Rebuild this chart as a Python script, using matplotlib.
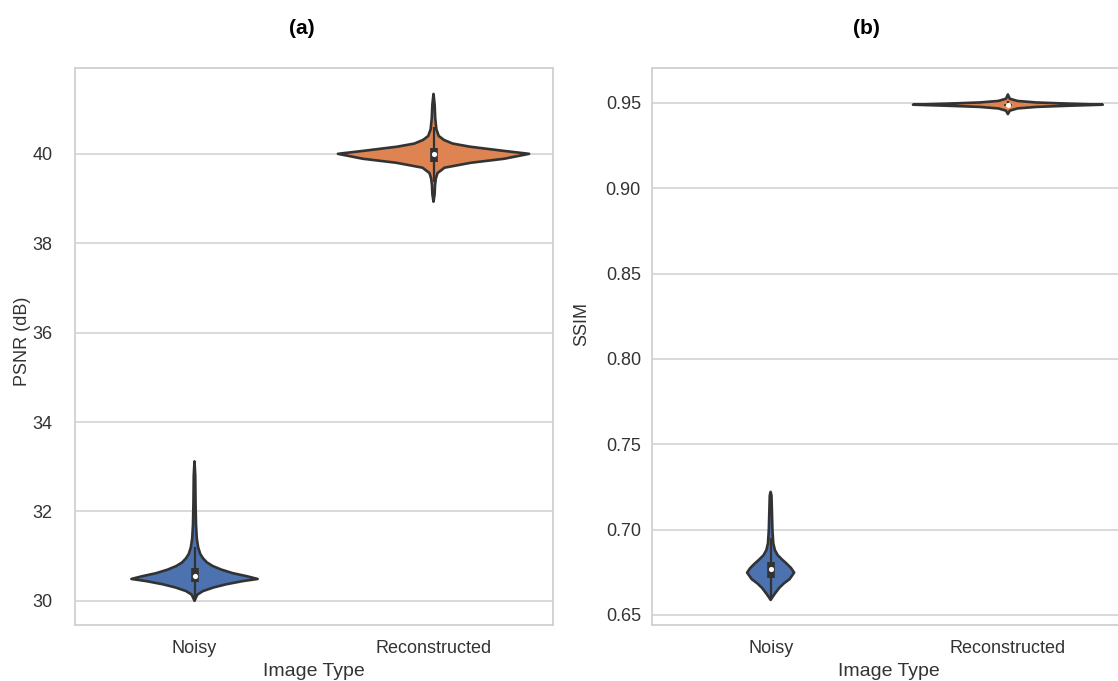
import numpy as np
import matplotlib
matplotlib.use("Agg")
import matplotlib.pyplot as plt

plt.rcParams['font.family'] = ['Liberation Sans', 'DejaVu Sans']

categories = ["Noisy", "Reconstructed"]

# ---- PSNR violins: value grid and relative density ----
psnr_noisy_vals = [30.00, 30.06, 30.14, 30.22, 30.30, 30.37, 30.44, 30.49, 30.55,
                   30.62, 30.70, 30.78, 30.86, 30.95, 31.05, 31.20, 31.40, 31.70,
                   32.20, 32.80, 33.12]
psnr_noisy_dens = [0.0, 0.012, 0.03, 0.09, 0.2, 0.33, 0.5, 0.66, 0.55,
                   0.4, 0.28, 0.19, 0.13, 0.09, 0.06, 0.038, 0.024, 0.016,
                   0.011, 0.008, 0.0]
psnr_recon_vals = [38.93, 39.10, 39.30, 39.45, 39.57, 39.69, 39.80, 39.89, 40.00,
                   40.07, 40.16, 40.23, 40.31, 40.40, 40.55, 40.80, 41.10, 41.34]
psnr_recon_dens = [0.0, 0.012, 0.016, 0.025, 0.042, 0.115, 0.39, 0.74, 1.0,
                   0.72, 0.38, 0.2, 0.11, 0.055, 0.03, 0.018, 0.012, 0.0]
# box stats: whisker low, q1, median, q3, whisker high
psnr_noisy_box = [30.02, 30.43, 30.56, 30.74, 31.20]
psnr_recon_box = [39.36, 39.82, 40.00, 40.13, 40.60]

# ---- SSIM violins ----
ssim_noisy_vals = [0.6588, 0.6605, 0.6625, 0.6658, 0.6685, 0.6710, 0.6748, 0.6775,
                   0.6800, 0.6825, 0.6850, 0.6880, 0.6920, 0.7000, 0.7100, 0.7200, 0.7221]
ssim_noisy_dens = [0.0, 0.02, 0.045, 0.09, 0.14, 0.2, 0.248, 0.215,
                   0.17, 0.12, 0.075, 0.045, 0.028, 0.019, 0.014, 0.009, 0.0]
ssim_recon_vals = [0.9435, 0.9455, 0.9468, 0.9477, 0.9484, 0.9490, 0.9496,
                   0.9503, 0.9512, 0.9525, 0.9550]
ssim_recon_dens = [0.0, 0.02, 0.1, 0.3, 0.65, 1.0, 0.65,
                   0.3, 0.1, 0.02, 0.0]
ssim_noisy_box = [0.6600, 0.6717, 0.6770, 0.6810, 0.6950]
ssim_recon_box = [0.9470, 0.9485, 0.9490, 0.9495, 0.9510]

psnr_ticks = [30, 32, 34, 36, 38, 40]
ssim_ticks = [0.65, 0.70, 0.75, 0.80, 0.85, 0.90, 0.95]

colors = ["#4C72B0", "#DD8452"]
edge = "#333333"
gridc = "#d0d0d0"

fig = plt.figure(figsize=(11.18, 6.81), dpi=100)
axL = fig.add_axes([75/1118, 1-625/681, 478/1118, 557/681])
axR = fig.add_axes([652/1118, 1-625/681, 474.5/1118, 557/681])


def draw_violin(ax, pos, vals, dens, box, color):
    vals = np.asarray(vals)
    w = 0.4 * np.asarray(dens)
    xs = np.concatenate([pos + w, (pos - w)[::-1]])
    ys = np.concatenate([vals, vals[::-1]])
    ax.fill(xs, ys, facecolor=color, edgecolor=edge, linewidth=1.9, zorder=2,
            joinstyle='round')
    ax.plot([pos, pos], [box[0], box[4]], color=edge, lw=1.6, zorder=3,
            solid_capstyle='butt')
    ax.plot([pos, pos], [box[1], box[3]], color=edge, lw=5.5, zorder=3,
            solid_capstyle='butt')
    ax.scatter([pos], [box[2]], s=14, color='white', zorder=4, linewidths=0)


draw_violin(axL, 0, psnr_noisy_vals, psnr_noisy_dens, psnr_noisy_box, colors[0])
draw_violin(axL, 1, psnr_recon_vals, psnr_recon_dens, psnr_recon_box, colors[1])
draw_violin(axR, 0, ssim_noisy_vals, ssim_noisy_dens, ssim_noisy_box, colors[0])
draw_violin(axR, 1, ssim_recon_vals, ssim_recon_dens, ssim_recon_box, colors[1])

for ax, ticks, ylab, fmt in [(axL, psnr_ticks, "PSNR (dB)", "{:.0f}"),
                              (axR, ssim_ticks, "SSIM", "{:.2f}")]:
    ax.set_xlim(-0.5, 1.5)
    ax.set_xticks([0, 1])
    ax.set_xticklabels(categories)
    ax.set_yticks(ticks)
    ax.set_yticklabels([fmt.format(t) for t in ticks])
    ax.grid(axis='y', color=gridc, lw=1.1, zorder=0)
    ax.set_axisbelow(True)
    for s in ax.spines.values():
        s.set_color(gridc)
        s.set_linewidth(1.3)
    ax.tick_params(axis='both', length=0, labelsize=13, colors='#333333')
    ax.tick_params(axis='x', pad=11)
    ax.set_xlabel("Image Type", fontsize=14, color='#333333', labelpad=4)
    ax.set_ylabel(ylab, fontsize=13, color='#333333')

axL.set_ylim(29.46, 41.92)
axR.set_ylim(0.6441, 0.9705)
axL.tick_params(axis='y', pad=16)
axR.tick_params(axis='y', pad=8)
axL.yaxis.set_label_coords(-0.092, 0.51)
axR.yaxis.set_label_coords(-0.13, 0.54)

fig.text(302/1118, 1-28/681, "(a)", fontsize=15, fontweight='bold',
         ha='center', va='center')
fig.text(866/1118, 1-28/681, "(b)", fontsize=15, fontweight='bold',
         ha='center', va='center')

fig.savefig("out.png", dpi=100)
